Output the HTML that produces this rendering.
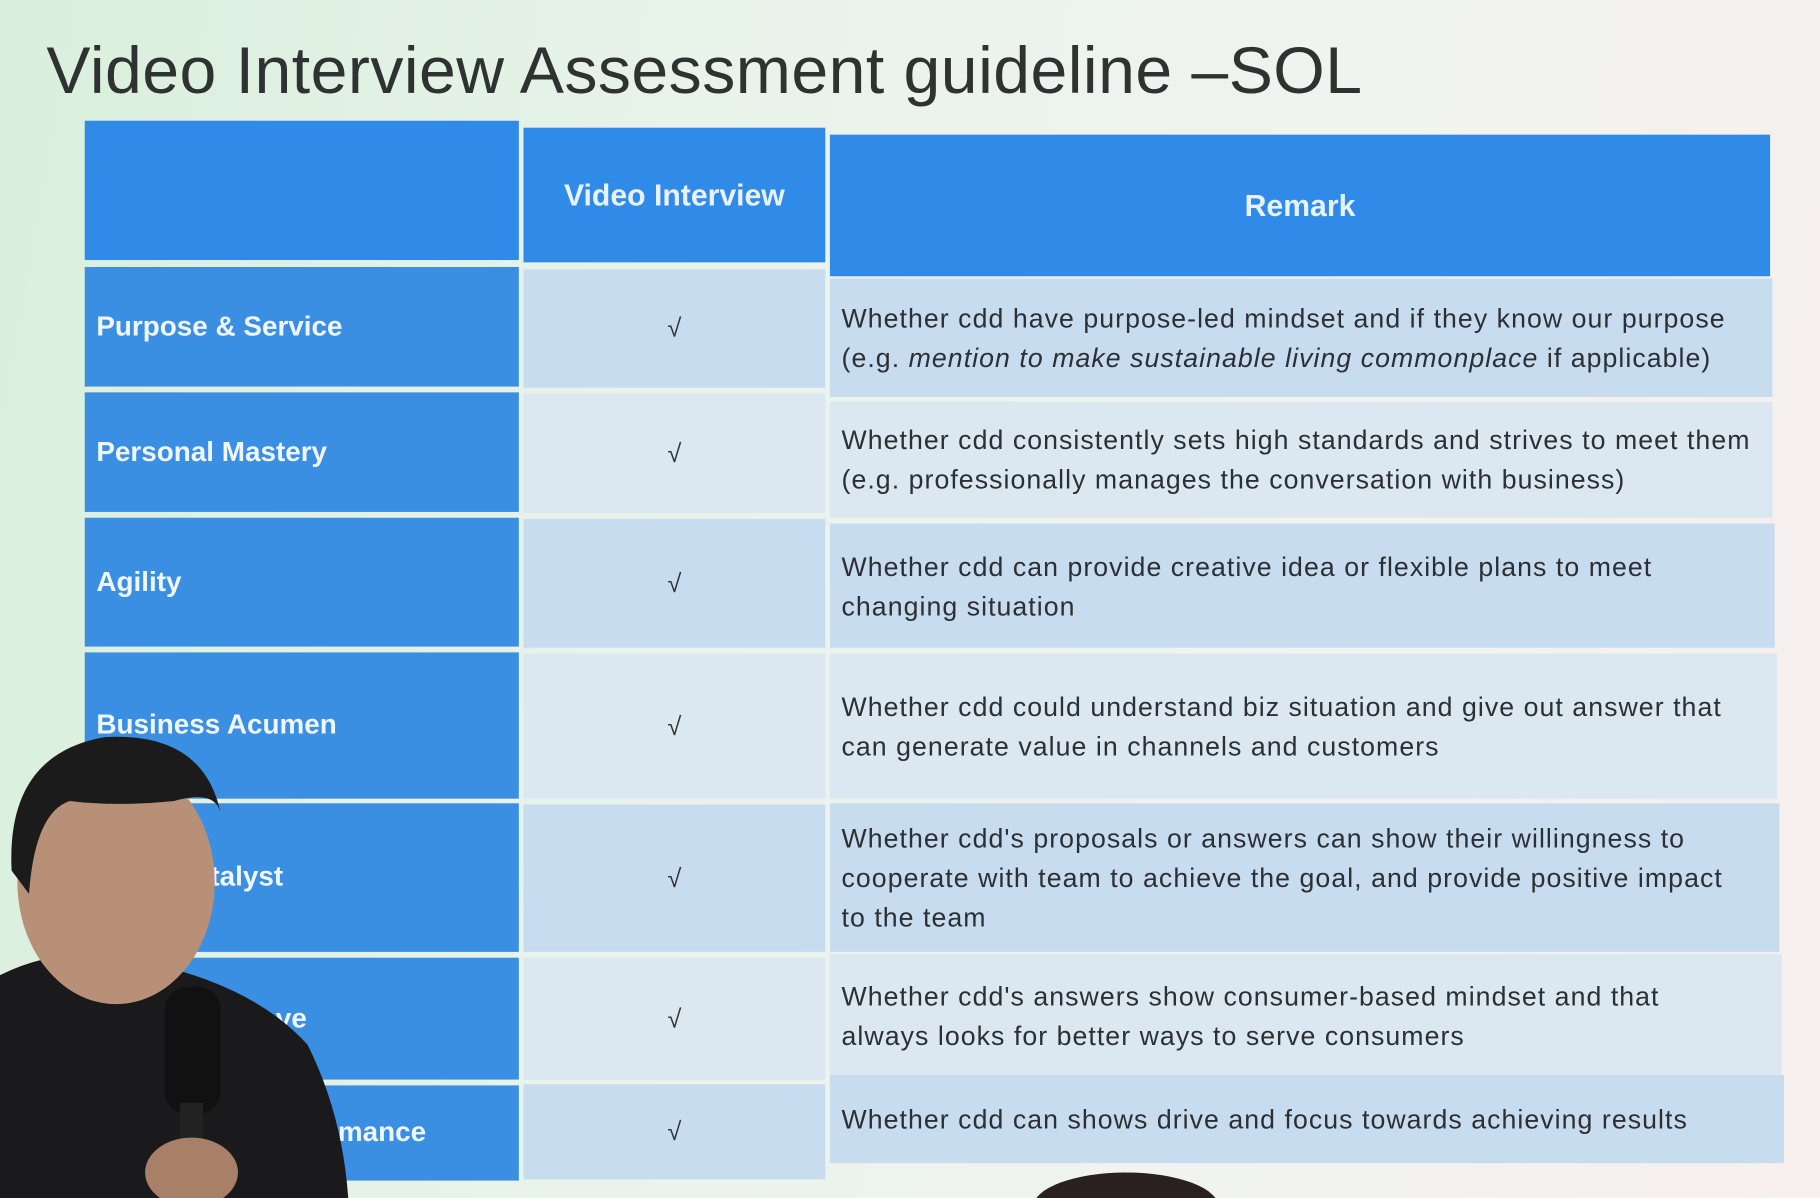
<!DOCTYPE html>
<html><head><meta charset="utf-8">
<style>
html,body{margin:0;padding:0;width:1820px;height:1198px;overflow:hidden;background:#eef4ee;}
#wrap{position:absolute;left:0;top:0;width:1568px;height:1032px;transform:scale(1.16071,1.16085);transform-origin:0 0;
background:linear-gradient(100deg,#d9efdc 0%,#e8f3ea 35%,#f1f3f1 70%,#f6efee 100%);font-family:"Liberation Sans",sans-serif;overflow:hidden;}
.title{position:absolute;left:40px;top:28px;font-size:57px;color:#2e3230;letter-spacing:0.4px;white-space:nowrap;}
.cell{position:absolute;box-sizing:border-box;}
.hd{background:#2f8ae8;color:#e8f2ff;font-weight:bold;font-size:26px;display:flex;align-items:center;justify-content:center;}
.c1{background:#3b8fe2;color:#f0f6ff;font-weight:bold;font-size:24px;display:flex;align-items:center;padding-left:10px;}
.c2{display:flex;align-items:center;justify-content:center;font-size:22px;color:#333;}
.c3{display:flex;align-items:center;padding-left:10px;font-size:23px;letter-spacing:0.9px;color:#2c2f33;line-height:34px;white-space:nowrap;}
.a{background:#c8dcef;}
.b{background:#dbe8f1;}
</style></head><body>
<div id="wrap">
<div class="title">Video Interview Assessment guideline –SOL</div>

<div class="cell hd" style="left:73px;top:104px;width:374px;height:120px"></div>
<div class="cell hd" style="left:451px;top:110px;width:260px;height:116px">Video Interview</div>
<div class="cell hd" style="left:715px;top:116px;width:810px;height:122px">Remark</div>

<div class="cell c1" style="left:73px;top:230px;width:374px;height:103px">Purpose &amp; Service</div>
<div class="cell c2 a" style="left:451px;top:232px;width:260px;height:102px">√</div>
<div class="cell c3 a" style="left:715px;top:240px;width:812px;height:102px"><div>Whether cdd have purpose-led mindset and if they know our purpose<br>(e.g. <i>mention to make sustainable living commonplace</i> if applicable)</div></div>

<div class="cell c1" style="left:73px;top:338px;width:374px;height:103px">Personal Mastery</div>
<div class="cell c2 b" style="left:451px;top:339px;width:260px;height:103px">√</div>
<div class="cell c3 b" style="left:715px;top:346px;width:812px;height:100px"><div>Whether cdd consistently sets high standards and strives to meet them<br>(e.g. professionally manages the conversation with business)</div></div>

<div class="cell c1" style="left:73px;top:446px;width:374px;height:111px">Agility</div>
<div class="cell c2 a" style="left:451px;top:447px;width:260px;height:111px">√</div>
<div class="cell c3 a" style="left:715px;top:451px;width:814px;height:107px"><div>Whether cdd can provide creative idea or flexible plans to meet<br>changing situation</div></div>

<div class="cell c1" style="left:73px;top:562px;width:374px;height:126px">Business Acumen</div>
<div class="cell c2 b" style="left:451px;top:563px;width:260px;height:125px">√</div>
<div class="cell c3 b" style="left:715px;top:563px;width:816px;height:125px"><div>Whether cdd could understand biz situation and give out answer that<br>can generate value in channels and customers</div></div>

<div class="cell c1" style="left:73px;top:692px;width:374px;height:128px">Team Catalyst</div>
<div class="cell c2 a" style="left:451px;top:693px;width:260px;height:127px">√</div>
<div class="cell c3 a" style="left:715px;top:692px;width:818px;height:128px"><div>Whether cdd's proposals or answers can show their willingness to<br>cooperate with team to achieve the goal, and provide positive impact<br>to the team</div></div>

<div class="cell c1" style="left:73px;top:825px;width:374px;height:105px">Consumer Love</div>
<div class="cell c2 b" style="left:451px;top:825px;width:260px;height:105px">√</div>
<div class="cell c3 b" style="left:715px;top:822px;width:820px;height:106px"><div>Whether cdd's answers show consumer-based mindset and that<br>always looks for better ways to serve consumers</div></div>

<div class="cell c1" style="left:73px;top:935px;width:374px;height:82px">Passion for Performance</div>
<div class="cell c2 a" style="left:451px;top:934px;width:260px;height:82px">√</div>
<div class="cell c3 a" style="left:715px;top:926px;width:822px;height:76px"><div>Whether cdd can shows drive and focus towards achieving results</div></div>

<svg style="position:absolute;left:0;top:0" width="1568" height="1032">
<path d="M0 840 Q60 810 130 830 Q220 850 265 900 Q295 960 300 1032 L0 1032 Z" fill="#1a1a1c"/>
<ellipse cx="100" cy="760" rx="85" ry="105" fill="#b89078"/>
<path d="M10 750 Q5 650 90 635 Q175 630 190 700 Q185 680 150 690 Q100 695 60 690 Q30 700 25 770 Z" fill="#1c1b1b"/>
<rect x="142" y="850" width="48" height="110" rx="20" fill="#111"/>
<rect x="155" y="950" width="20" height="82" fill="#222"/>
<ellipse cx="165" cy="1010" rx="40" ry="30" fill="#a88068"/>
<ellipse cx="970" cy="1040" rx="80" ry="30" fill="#2a2020"/>
</svg>
</div>
</body></html>
